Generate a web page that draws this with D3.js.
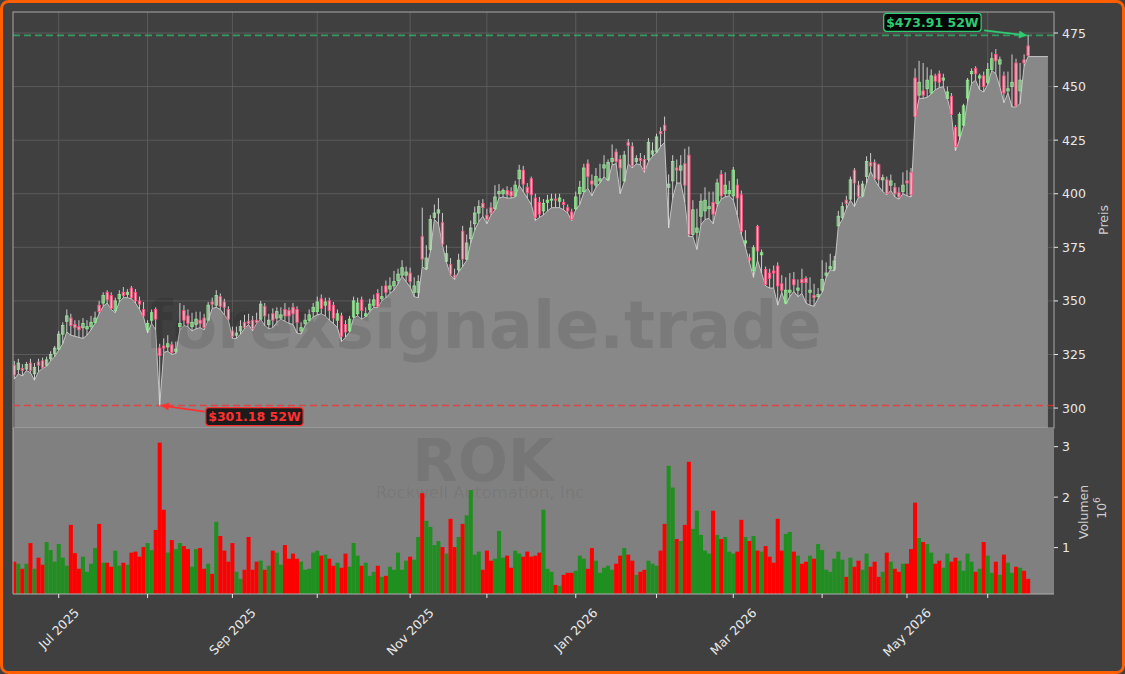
<!DOCTYPE html>
<html><head><meta charset="utf-8">
<script src="https://cdn.jsdelivr.net/npm/d3@7"></script>
<style>html,body{margin:0;padding:0;background:#404040;} svg{display:block;}</style>
</head><body>
<svg id="chart" width="1125" height="674"></svg>
<script>
// ---------- DATA (trading-day index 0 = mid Jun 2025 ... 251 = mid Jun 2026) ----------
const openP = [
320,318,318.5,318.2,321,316,321.5,322,320,323,
325.5,327.5,334.5,340.5,342,339,338,337.5,337,338,
340,348,349,354,352.5,345.5,351,354,353,356,
354,350,346,336.5,341,346,328,329,328.5,329.5,
326.5,338,345.5,343,338,339,341,342,341,349.5,
348,352,349.5,346,336,334,336,340,340.5,341,
341,341.5,347.5,339,344,342,342,346,345.5,347,
346,336,339.5,341,345,345,351,348,350,348,
341,343,339,336,342.5,344,350.5,343,346,348,
353.5,351,357,355.5,357,359.5,362,362,363,354,
354,380,365,374,389,391,386.5,368.5,367,362,
364.5,382.5,369.5,379,386,391,395.5,390,393.5,393,
400,400,401.5,401,399,407,411,403,407,398,
396,392,396,397,397.5,396.5,396,393.5,391.5,393,
400,401,414,406,404,406,412,406.6,415,419.5,
416,406,424,422,415,416.5,416,416,418.5,419.5,
429,432,403,406,412,411,414,418,381,382,
389.5,392,393,396,395.5,409,400,400,399,404,
399.5,377,370,364,384.8,371.5,364.7,363,364,366.3,
358,349,354,360,355,360,360.5,354,352.5,352,
355,362,365,364.7,385,389,397,397.5,411,404,
399,408,414.5,414.5,413.5,406.5,406.5,404,403,400.5,
401,406,410,454,446,448,449,447,455,456,
453,444.5,445.5,431,427,432,444.7,456,458.5,454,
455,452,458,465,460.5,455,448,450,461,448,
462.5,469];
const highP = [
322,323,320.5,321.5,323,321,323,323.5,324,326.5,
329,336,340,346,344,341,341,342,341,343,
345,350,354,355,354,351.5,355,356.5,355.5,357,
355.5,352,349.5,341,346,347,330,332.5,334,331,
331,349,348,346,344.5,345,345,344,349.5,351.5,
355,353.5,351,347.5,338,338,341,343.5,344,343,
344.5,350,349,344,346.5,347,347,349,347,349,
347.5,340,344,346,349,352,353,351.5,351.5,349.5,
346,344.5,341,343,352,351.5,352,347,351,353,
355.5,357,359.5,361,364,365,369,366,365.5,361,
362,393.5,376,390,395,398,391,376,370,365,
372,385,381,387.5,394,397,397.5,393,396,404,
404.5,402.5,403.5,403,406,413.5,413,405,408,400,
398.5,397.5,399.5,400,400,400,397.5,395,393,401,
406,414,416,409,412,414,418,416,423,421,
418,420,425.5,424,418,419,418,426,424,428,
431,436,409,418,416,418,421,422,397,393,
400,403,401,401,407,411,410,406,412.5,407,
401.5,383,372,376,385.5,374,366,365,366.5,368,
362,361,363,363.5,360,365,361.5,361,358,356,
369,368,372,371,392,396,399,408,412,406,
406,417.5,419,416,414,409,408,409,405,403,
410,411,412,458.5,462,461,459,458,456,457.5,
456,450,447,432,438,442,454,458.5,459.5,456,
457,461,466,467.5,464,457,457,465,463,461,
465,473.91];
const lowP = [
313.5,316,315,317.5,316.5,313,317,318.5,319.5,322,
324,327,330,335.5,334,333.5,333,332.5,334,336.5,
339.5,344,347.5,349,346,344.5,349.5,351.5,351.5,351,
349,346,342.5,335,339.5,336.5,301.18,326,326.5,325,
325.5,336.5,338.5,338,336,337,337.5,336.5,341,346.5,
347,346,343.5,341,332.5,332.5,334.5,337,339,336,
339.5,341.5,338.5,337,337.5,340,341.5,340.5,339.5,339,
335,334.5,338.5,340.5,342.5,343.5,344,343,341,339.5,
337.5,331,333,335.5,342,343,341.5,342.5,345,347,
347,350,351.5,353.5,355,358,361.5,359,356.5,352,
351.5,366,364.5,373,388,386,376,368,362,360,
363.5,366,369,377,383,387,389.5,386,390,392.5,
398,398.5,398,398,398.5,404,401,398,395,387.5,
389,390,392,393.5,393.5,393.5,392.5,391,387.5,392.5,
395,400.5,402.5,399,403,405,408,406,413.5,414,
400,405.5,414,412,414,413.5,410,415,417.5,419,
422,424,384,398,405,405,396,380,380,374,
385.5,388,388.5,386,394,397.5,398.5,399,397,390,
381,375,368,361,369,363,357,356,356,348,
354,348.5,352,354.5,352,353.5,349,348,347.5,351,
354,361,364.5,364,384.8,388,393,397,394,398.5,
398.5,405,410.5,406.5,403.5,401,399.5,401.5,398.5,397.5,
400,399,398.5,435.5,444.5,444.5,445,446.5,448.5,449.5,
450,444.5,437,420,425,431.5,443,451.5,453,448.5,
447.5,451,457.5,456,450,442.5,447,440.5,440.5,442,
459.5,464];
const closeP = [
315.5,321,317.5,320.3,317.5,319,320,318.8,322.5,325,
328,334.5,338.5,343,338.5,337.5,336.5,339.5,338,340,
342,345,352.5,350.5,346.5,350,353,352.5,354,351.5,
350,348.5,343,339.5,344.5,341.5,324.5,328,330,326,
327.5,339.5,341,339.5,340,341.5,339.5,337.5,348,348.5,
352.5,347.5,347,341.5,333.5,335,338,337.5,339.5,337,
340,348.5,343,341,341,345,343.5,343,343,344,
340,337.5,341,343.5,347,349.5,346.5,349.5,345.5,342,
344,333.5,335.5,341.5,350,349,345.5,344,348.5,350.5,
347.5,352,354,357,359,362.5,365.5,363.5,359,357,
359,369.5,370,388,391,392.5,376.5,372,362.5,361,
369,369.5,377,384,391,394,393.5,388,391,398.5,
401,401.5,399.5,399,404,411,404.5,400.5,399.5,389,
390.5,395.5,397,397.5,397,398,395,392,388,398.5,
403,412,408,404.5,408,407,413.5,414.6,416.5,415,
412,418,422.5,413,416.5,415.5,411,424,420,426.5,
428,429.5,404.5,415,411,413,404,381,392.5,384,
396.5,397,394,390.5,405,399,404,401.5,411,398,
382.5,378,369,374.8,373.3,372.5,357.7,360.5,363,357,
355,355,355,357.5,356,358.5,358.5,355,351.5,353,
360,363,366,368.6,389.5,394,395.5,406.5,405,398.8,
404.5,415,413,407,406.5,407.5,400,406,400,398.5,
404,405,399.5,436,452,446,453,455,452.5,452,
454,447.5,437,422,437,441,453,457,456,455,
450,458,463,462,462.5,447,449,452,441,453,
461,464.4];
const volumeM = [ // millions of shares
0.72,0.68,0.58,0.68,1.09,0.58,0.80,0.66,1.11,0.95,
0.72,1.07,0.80,0.64,1.45,0.89,0.58,0.82,0.52,0.68,
0.99,1.47,0.70,0.70,0.62,0.94,0.64,0.70,0.66,0.90,
0.92,0.82,1.01,1.09,0.95,1.35,3.08,1.75,0.90,1.15,
0.97,1.09,1.03,0.97,0.62,0.97,0.99,0.58,0.68,0.48,
1.51,1.23,0.94,0.72,1.09,0.52,0.38,0.56,1.21,0.56,
0.72,0.74,0.56,0.64,0.94,0.90,0.66,1.05,0.78,0.88,
0.78,0.72,0.56,0.58,0.90,0.94,0.84,0.86,0.78,0.64,
0.70,0.60,0.88,0.62,1.09,0.84,0.64,0.70,0.44,0.52,
0.64,0.42,0.44,0.62,0.56,0.90,0.56,0.74,0.82,0.76,
1.21,2.08,1.53,1.41,1.05,1.13,1.01,0.88,1.57,1.01,
1.21,1.47,1.64,2.14,0.86,0.92,0.56,0.94,0.74,0.78,
1.33,0.80,0.84,0.60,0.94,0.88,0.82,0.92,0.82,0.84,
0.90,1.75,0.58,0.52,0.26,0.24,0.46,0.50,0.50,0.54,
0.84,0.78,0.58,0.99,0.74,0.50,0.60,0.64,0.56,0.68,
0.84,0.99,0.86,0.74,0.46,0.52,0.56,0.74,0.68,0.64,
0.94,1.47,2.62,2.19,1.17,1.13,1.45,2.70,1.37,1.73,
1.25,0.94,0.88,1.73,1.25,1.17,1.21,0.92,0.88,0.92,
1.55,1.21,1.13,1.23,0.94,0.92,1.03,0.82,0.70,1.57,
0.94,1.27,1.31,0.92,0.84,0.68,0.72,0.84,0.78,1.07,
0.95,0.56,0.52,0.78,0.92,0.76,0.42,0.80,0.62,0.74,
0.56,0.88,0.62,0.72,0.42,0.52,0.90,0.72,0.58,0.52,
0.68,0.68,0.97,1.89,1.19,1.11,1.07,0.90,0.68,0.74,
0.60,0.88,0.72,0.80,0.74,0.54,0.88,0.72,0.52,0.58,
1.11,0.84,0.50,0.72,0.46,0.86,0.70,0.50,0.62,0.60,
0.54,0.38];
const priceTicks = [300,325,350,375,400,425,450,475];
const volumeTicks = [1,2,3];
const monthTickIdx = [11,33,54,75,98,117,139,159,178,200,221,241];
const monthTickLabels = ["Jul 2025","","Sep 2025","","Nov 2025","","Jan 2026","","Mar 2026","","May 2026",""];
const high52 = 473.91, low52 = 301.18;
const ticker = "ROK", companyName = "Rockwell Automation, Inc", watermark = "forexsignale.trade";

// ---------- LAYOUT ----------
const L = 13, R = 1054, PT = 12, PB = 428, VB = 594;
const svg = d3.select("#chart");
const N = closeP.length;
const x = d3.scaleLinear().domain([-0.32, 257.4]).range([L, R]);
const yP = d3.scaleLinear().domain([290.7, 484.8]).range([PB, PT]);
const yV = d3.scaleLinear().domain([0.08, 3.37]).range([VB, PB]);
const bw = x(1) - x(0);
const FONT = "DejaVu Sans, sans-serif";

svg.append("rect").attr("width",1125).attr("height",674).attr("fill","#404040");

const defs = svg.append("defs");
defs.append("clipPath").attr("id","clipP").append("rect").attr("x",L).attr("y",PT).attr("width",R-L).attr("height",PB-PT);
defs.append("clipPath").attr("id","clipV").append("rect").attr("x",L).attr("y",PB).attr("width",R-L).attr("height",VB-PB);
function marker(id,color){
  defs.append("marker").attr("id",id).attr("viewBox","0 0 10 10").attr("refX",9).attr("refY",5)
    .attr("orient","auto").attr("markerUnits","userSpaceOnUse")
    .attr("markerWidth",11).attr("markerHeight",8)
    .append("path").attr("d","M0,0 L10,5 L0,10 z").attr("fill",color);
}
marker("arrG","#2ecc71"); marker("arrR","#ff3030");

// ---------- PRICE PANEL ----------
const gP = svg.append("g").attr("clip-path","url(#clipP)");
gP.selectAll(".hg").data(priceTicks).join("line")
  .attr("x1",L).attr("x2",R).attr("y1",d=>yP(d)).attr("y2",d=>yP(d))
  .attr("stroke","#5e5e5e").attr("stroke-width",0.9);
gP.selectAll(".vg").data(monthTickIdx).join("line")
  .attr("x1",d=>x(d)).attr("x2",d=>x(d)).attr("y1",PT).attr("y2",PB)
  .attr("stroke","#5e5e5e").attr("stroke-width",0.9);

const idx = d3.range(N);
const areaPts = idx.map(i=>[i, lowP[i]]);
areaPts.push([N - 1 + 4.9, lowP[N-1]]);
gP.append("path").datum(areaPts)
  .attr("d", d3.area().x(d=>x(d[0])).y0(PB).y1(d=>yP(d[1])))
  .attr("fill","#888888");
gP.append("path").datum(areaPts)
  .attr("d", d3.line().x(d=>x(d[0])).y(d=>yP(d[1])))
  .attr("fill","none").attr("stroke","#c4c4c4").attr("stroke-width",1);

gP.append("text").attr("x",483).attr("y",348).attr("text-anchor","middle")
  .attr("font-family",FONT).attr("font-weight","bold").attr("font-size",65)
  .attr("fill","#000").attr("fill-opacity",0.1).text(watermark);

gP.append("line").attr("x1",L).attr("x2",R).attr("y1",yP(high52)).attr("y2",yP(high52))
  .attr("stroke","#2ecc71").attr("stroke-opacity",0.65).attr("stroke-width",1.6).attr("stroke-dasharray","7,4");
gP.append("line").attr("x1",L).attr("x2",R).attr("y1",yP(low52)).attr("y2",yP(low52))
  .attr("stroke","#ff2a2a").attr("stroke-opacity",0.7).attr("stroke-width",1.6).attr("stroke-dasharray","7,4");

const cw = 2.5;
const cg = gP.append("g");
cg.selectAll(".wick").data(idx).join("line")
  .attr("x1",i=>x(i)).attr("x2",i=>x(i)).attr("y1",i=>yP(highP[i])).attr("y2",i=>yP(lowP[i]))
  .attr("stroke","#dcdcdc").attr("stroke-width",0.9);
cg.selectAll(".body").data(idx).join("rect")
  .attr("x",i=>x(i)-cw/2).attr("width",cw)
  .attr("y",i=>yP(Math.max(openP[i],closeP[i])))
  .attr("height",i=>Math.max(0.8, Math.abs(yP(openP[i])-yP(closeP[i]))))
  .attr("fill",i=>closeP[i]>=openP[i] ? "rgba(165,215,165,0.5)" : "rgba(255,185,200,0.7)")
  .attr("stroke",i=>closeP[i]>=openP[i] ? "#90ee90" : "#ff4f7f").attr("stroke-width",0.8);

svg.append("rect").attr("x",L).attr("y",PT).attr("width",R-L).attr("height",PB-PT)
  .attr("fill","none").attr("stroke","#a8a8a8").attr("stroke-width",1);

// ---------- VOLUME PANEL ----------
svg.append("rect").attr("x",L).attr("y",PB).attr("width",R-L).attr("height",VB-PB).attr("fill","#808080");
const gV = svg.append("g").attr("clip-path","url(#clipV)");
gV.append("text").attr("x",483).attr("y",481).attr("text-anchor","middle")
  .attr("font-family",FONT).attr("font-weight","bold").attr("font-size",59)
  .attr("fill","#000").attr("fill-opacity",0.08).text(ticker);
gV.append("text").attr("x",480).attr("y",498).attr("text-anchor","middle")
  .attr("font-family",FONT).attr("font-size",16.5)
  .attr("fill","#000").attr("fill-opacity",0.08).text(companyName);
gV.selectAll(".vb").data(idx).join("rect")
  .attr("x",i=>x(i)-bw/2).attr("width",bw)
  .attr("y",i=>yV(volumeM[i])).attr("height",i=>VB-yV(volumeM[i]))
  .attr("fill",i=>closeP[i]>=openP[i] ? "#1f8f1f" : "#ff0000");
svg.append("line").attr("x1",L).attr("x2",R).attr("y1",VB).attr("y2",VB).attr("stroke","#b0b0b0").attr("stroke-width",1);
svg.append("line").attr("x1",L).attr("x2",L).attr("y1",PB).attr("y2",VB).attr("stroke","#b0b0b0").attr("stroke-width",1);

// ---------- AXES ----------
const tickCol = "#e8e8e8";
svg.selectAll(".pt").data(priceTicks).join("line")
  .attr("x1",R).attr("x2",R+4).attr("y1",d=>yP(d)).attr("y2",d=>yP(d)).attr("stroke",tickCol);
svg.selectAll(".ptl").data(priceTicks).join("text")
  .attr("x",R+8).attr("y",d=>yP(d)).attr("dy","0.36em")
  .attr("font-family",FONT).attr("font-size",12.5).attr("fill",tickCol).text(d=>d);
svg.selectAll(".vt").data(volumeTicks).join("line")
  .attr("x1",R).attr("x2",R+4).attr("y1",d=>yV(d)).attr("y2",d=>yV(d)).attr("stroke",tickCol);
svg.selectAll(".vtl").data(volumeTicks).join("text")
  .attr("x",R+8).attr("y",d=>yV(d)).attr("dy","0.36em")
  .attr("font-family",FONT).attr("font-size",12.5).attr("fill",tickCol).text(d=>d);
svg.selectAll(".xt").data(monthTickIdx).join("line")
  .attr("x1",d=>x(d)).attr("x2",d=>x(d)).attr("y1",VB).attr("y2",VB+4).attr("stroke",tickCol);
const xl = svg.append("g");
monthTickIdx.forEach((d,k)=>{
  const lab = monthTickLabels[k]; if(!lab) return;
  const t = xl.append("text").attr("font-family",FONT).attr("font-size",12.5).attr("fill",tickCol)
    .attr("text-anchor","middle").attr("dominant-baseline","central").text(lab);
  const w = t.node().getComputedTextLength();
  const cy = 607 + (w + 10)/(2*Math.SQRT2);
  t.attr("transform",`translate(${x(d)},${cy}) rotate(-45)`);
});
svg.append("text").attr("transform","translate(1103,220) rotate(-90)").attr("text-anchor","middle")
  .attr("dominant-baseline","central").attr("font-family",FONT).attr("font-size",12.5).attr("fill","#cfcfcf").text("Preis");
svg.append("text").attr("transform","translate(1083,512) rotate(-90)").attr("text-anchor","middle")
  .attr("dominant-baseline","central").attr("font-family",FONT).attr("font-size",12.5).attr("fill","#cfcfcf").text("Volumen");
const t6 = svg.append("text").attr("transform","translate(1101,508) rotate(-90)").attr("text-anchor","middle")
  .attr("dominant-baseline","central").attr("font-family",FONT).attr("font-size",12.5).attr("fill","#cfcfcf");
t6.append("tspan").text("10");
t6.append("tspan").attr("dy","-0.45em").attr("font-size",9).text("6");

// ---------- 52W ANNOTATIONS ----------
function annot(val, i, dx, dy, color, bg, mk, anchorLeft){
  const tx = x(i) + (anchorLeft ? 2 : -2), ty = yP(val);
  const bx = tx + dx, by = ty + dy;
  const label = "$" + val.toFixed(2) + " 52W";
  const g = svg.append("g");
  const t = g.append("text").attr("font-family",FONT).attr("font-weight","bold").attr("font-size",12.5)
    .attr("fill",color).attr("dominant-baseline","central").text(label);
  const w = t.node().getComputedTextLength();
  const boxX = anchorLeft ? bx : bx - w - 5;
  t.attr("x", boxX + 2.5).attr("y", by);
  g.insert("rect","text").attr("x",boxX).attr("y",by-9).attr("width",w+5).attr("height",18).attr("rx",3)
    .attr("fill",bg).attr("stroke",color).attr("stroke-width",1.3);
  const sx = anchorLeft ? boxX - 1 : boxX + w + 8;
  const sy = anchorLeft ? by - 5 : by + 8;
  g.append("line").attr("x1",sx).attr("y1",sy).attr("x2",tx).attr("y2",ty)
    .attr("stroke",color).attr("stroke-width",1.8).attr("marker-end",`url(#${mk})`);
}
annot(high52, N-1, -45, -13, "#2ecc71", "#050505", "arrG", false);
annot(low52, 36, 44, 11, "#ff3030", "#1c1c1c", "arrR", true);

// ---------- FRAME ----------
svg.append("rect").attr("x",1.5).attr("y",1.5).attr("width",1122).attr("height",671).attr("rx",7)
  .attr("fill","none").attr("stroke","#ff5f00").attr("stroke-width",3);
</script>
</body></html>
